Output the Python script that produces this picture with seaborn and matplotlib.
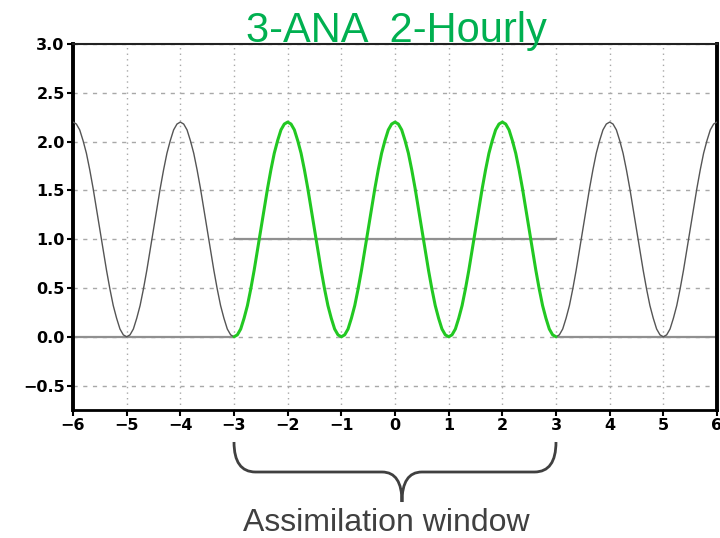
import numpy as np
import pandas as pd
import seaborn as sns
import matplotlib
matplotlib.use("Agg")
import matplotlib.pyplot as plt
from matplotlib.path import Path
from matplotlib.patches import PathPatch
from matplotlib.transforms import blended_transform_factory, IdentityTransform

# ---------------- data ----------------
title_text = "3-ANA  2-Hourly"
window_text = "Assimilation window"
x_ticks = [-6, -5, -4, -3, -2, -1, 0, 1, 2, 3, 4, 5, 6]
x_tick_labels = ["\u22126", "\u22125", "\u22124", "\u22123", "\u22122", "\u22121",
                 "0", "1", "2", "3", "4", "5", "6"]
y_ticks = [-0.5, 0.0, 0.5, 1.0, 1.5, 2.0, 2.5, 3.0]
y_tick_labels = ["\u22120.5", "0.0", "0.5", "1.0", "1.5", "2.0", "2.5", "3.0"]
half_wave = [2.20, 2.18, 2.12, 2.01, 1.88, 1.71, 1.52, 1.31, 1.10,
             0.89, 0.68, 0.49, 0.32, 0.19, 0.08, 0.02, 0.00]
x_start, x_end = -6, 6
window_start, window_end = -3, 3
window_mean = 1.0
baseline = 0.0

# ---------------- build frames ----------------
steps = len(half_wave) - 1
xs, ys = [], []
for n in range(x_start, x_end):
    for k in range(steps):
        xs.append(n + k / steps)
        ys.append(half_wave[k] if n % 2 == 0 else half_wave[steps - k])
xs.append(float(x_end))
ys.append(half_wave[0])
curve = pd.DataFrame({"x": xs, "y": ys})
before = curve[curve.x <= window_start]
inside = curve[(curve.x >= window_start) & (curve.x <= window_end)]
after = curve[curve.x >= window_end]

base_before = pd.DataFrame({"x": [x_start, window_start], "y": [baseline, baseline]})
base_after = pd.DataFrame({"x": [window_end, x_end], "y": [baseline, baseline]})
mean_line = pd.DataFrame({"x": [window_start, window_end], "y": [window_mean, window_mean]})

# ---------------- plot ----------------
sns.set_style("white")
plt.rcParams["font.family"] = ["DejaVu Sans"]

fig = plt.figure(figsize=(7.2, 5.38), dpi=100)
ax = fig.add_axes([73 / 720, 128 / 538, 644 / 720, 366 / 538])

gray_curve = "#555555"
gray_flat = "#909090"
green = "#22c822"

for d in (before, after):
    sns.lineplot(data=d, x="x", y="y", ax=ax, color=gray_curve, lw=1.0,
                 estimator=None, sort=False, zorder=3)
for d in (base_before, base_after, mean_line):
    sns.lineplot(data=d, x="x", y="y", ax=ax, color=gray_flat, lw=1.6,
                 estimator=None, sort=False, zorder=2)
sns.lineplot(data=inside, x="x", y="y", ax=ax, color=green, lw=2.2,
             estimator=None, sort=False, zorder=4)

ax.set_xlim(x_start, x_end)
ax.set_ylim(-0.75, 3.0)
ax.set_xticks(x_ticks)
ax.set_xticklabels(x_tick_labels)
ax.set_yticks(y_ticks)
ax.set_yticklabels(y_tick_labels)
ax.set_xlabel("")
ax.set_ylabel("")
ax.tick_params(direction="out", length=4, width=1.5, labelsize=11.5,
               colors="black", pad=2, bottom=True, left=True)
for lab in ax.get_xticklabels() + ax.get_yticklabels():
    lab.set_fontweight("bold")

ax.grid(False)
for xv in x_ticks:
    ax.axvline(xv, color="#a8a8a8", lw=1.0, ls=(0, (1, 3)), zorder=1)
for yv in y_ticks:
    ax.axhline(yv, color="#a8a8a8", lw=1.0, ls=(0, (3, 4)), zorder=1)

for side in ("left", "right"):
    ax.spines[side].set_linewidth(2.8)
    ax.spines[side].set_color("black")
ax.spines["bottom"].set_linewidth(2.0)
ax.spines["bottom"].set_color("black")
ax.spines["top"].set_linewidth(1.5)
ax.spines["top"].set_color("#222222")
ax.spines["top"].set_linestyle((0, (3, 1)))

# title
fig.text(396 / 720, (538 - 42) / 538, title_text, color="#00b050",
         fontsize=30, family=["Liberation Sans", "DejaVu Sans"],
         ha="center", va="baseline")

# brace (x in data units, y in pixels from top)
H = 538
tr = blended_transform_factory(ax.transData, IdentityTransform())
top_y, mid_y, tip_y = H - 442, H - 472, H - 502
tip_x = 0.13
verts = [
    (window_start, top_y), (window_start, mid_y), (window_start + 0.4, mid_y),
    (tip_x - 0.37, mid_y),
    (tip_x, mid_y), (tip_x, tip_y),
    (tip_x, mid_y), (tip_x + 0.37, mid_y),
    (window_end - 0.4, mid_y),
    (window_end, mid_y), (window_end, top_y),
]
codes = [Path.MOVETO, Path.CURVE3, Path.CURVE3, Path.LINETO,
         Path.CURVE3, Path.CURVE3, Path.CURVE3, Path.CURVE3,
         Path.LINETO, Path.CURVE3, Path.CURVE3]
brace = PathPatch(Path(verts, codes), transform=tr, fill=False,
                  edgecolor="#404040", lw=2.0, clip_on=False)
ax.add_artist(brace)

fig.text(386 / 720, (538 - 531) / 538, window_text, color="#404040",
         fontsize=23, family=["Liberation Sans", "DejaVu Sans"],
         ha="center", va="baseline")

fig.savefig("out.png", dpi=100)
